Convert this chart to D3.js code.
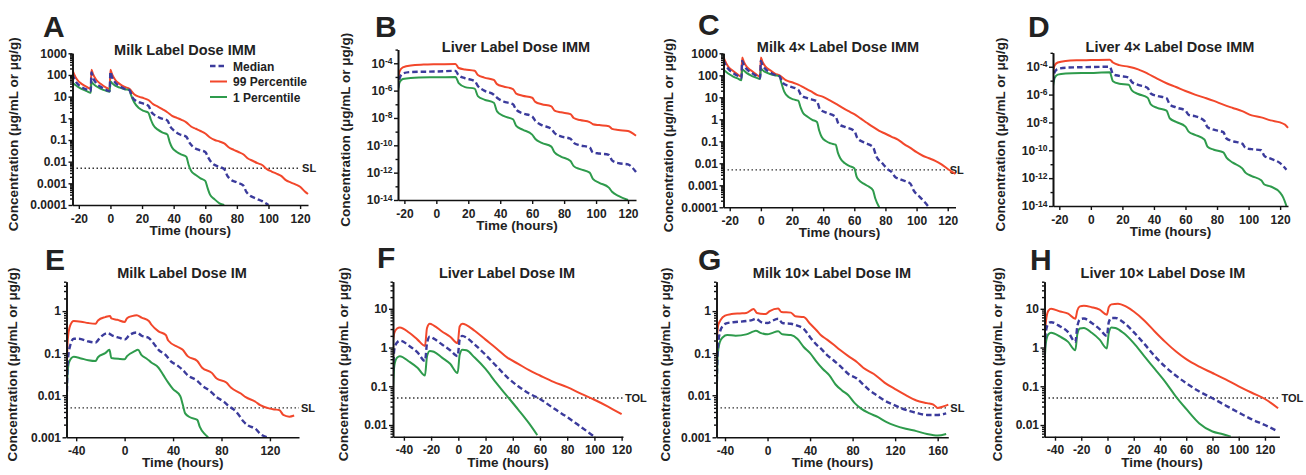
<!DOCTYPE html>
<html>
<head>
<meta charset="utf-8">
<script src="https://cdn.jsdelivr.net/npm/d3@7"></script>
<style>
body { margin: 0; background: #fff; }
svg text { font-family: "Liberation Sans", Arial, sans-serif; font-weight: bold; fill: #222; }
</style>
</head>
<body>
<svg id="chart" width="1306" height="475"></svg>
<script>
// every series is [time (hours), concentration]

// A - milk, label dose, IMM
var aMedian = [[-24,110],[-23,70],[-21,40],[-18,27],[-15,21],[-12.5,18],[-12,130],[-11,75],[-9,42],[-6,28],[-3,21],[-0.5,18],[0,140],[1,80],[3,45],[6,30],[9,23],[12,20],[14,9],[16,6.5],[20,5],[24,3.8],[26,1.9],[28,1.4],[32,1],[36,0.8],[38,0.4],[40,0.28],[44,0.18],[48,0.14],[50,0.075],[52,0.05],[56,0.035],[60,0.028],[62,0.015],[64,0.009],[68,0.006],[72,0.0045],[74,0.0022],[76,0.0015],[80,0.0011],[84,0.0008],[86,0.0004],[88,0.00028],[92,0.0002],[96,0.00015],[100,0.0001]];
var aP99 = [[-24,170],[-23,110],[-21,60],[-18,38],[-15,28],[-12.5,23],[-12,175],[-11,110],[-9,60],[-6,38],[-3,27],[-0.5,22],[0,175],[1,110],[3,60],[6,38],[9,28],[12,23],[15,13],[18,10],[21,8.5],[24,7],[27,4.5],[30,3.5],[33,2.6],[36,1.9],[39,1.3],[42,1.05],[45,0.85],[48,0.65],[51,0.42],[54,0.33],[57,0.26],[60,0.2],[63,0.13],[66,0.1],[69,0.085],[72,0.07],[75,0.045],[78,0.035],[81,0.028],[84,0.022],[87,0.014],[90,0.011],[93,0.0085],[96,0.007],[99,0.0045],[102,0.0035],[105,0.0028],[108,0.0022],[111,0.0014],[114,0.0011],[117,0.0009],[120,0.0007],[123,0.00042],[125,0.00032]];
var aP1 = [[-24,45],[-23,38],[-21,30],[-18,22],[-15,18],[-12.5,15],[-12,48],[-11,40],[-9,30],[-6,23],[-3,19],[-0.5,17],[0,50],[1,42],[3,32],[6,26],[9,22],[12,20],[13,12],[15,5.5],[18,3],[21,2.2],[24,1.8],[25.5,0.9],[27,0.5],[30,0.3],[33,0.22],[36,0.18],[37.5,0.08],[39,0.045],[42,0.028],[45,0.021],[48,0.017],[49.5,0.007],[51,0.0038],[54,0.0024],[57,0.0017],[60,0.0013],[61.5,0.0006],[63,0.0003],[66,0.00018],[69,0.00012],[72,0.0001]];

// B - liver, label dose, IMM
var bMedian = [[-24,1.5e-6],[-23,8e-6],[-21,1.8e-5],[-16,2.3e-5],[0,2.5e-5],[12,2.8e-5],[14,1.3e-5],[18,8e-6],[24,5e-6],[26,2.2e-6],[30,1e-6],[36,5e-7],[38,3e-7],[42,1.6e-7],[48,1e-7],[50,4e-8],[54,2.2e-8],[60,1.3e-8],[62,6e-9],[66,3e-9],[72,1.6e-9],[74,8e-10],[78,4.5e-10],[84,3e-10],[86,1.5e-10],[90,1e-10],[96,7e-11],[98,3e-11],[102,2.5e-11],[108,2e-11],[110,8e-12],[114,5e-12],[120,4e-12],[125,1.1e-12]];
var bP99 = [[-24,5e-6],[-23,2.5e-5],[-21,5e-5],[-16,7e-5],[-8,8e-5],[0,8.5e-5],[12,9e-5],[14,4.5e-5],[18,3.5e-5],[24,2.8e-5],[26,1.4e-5],[30,9e-6],[36,6e-6],[38,3e-6],[42,2e-6],[48,1.3e-6],[50,6e-7],[54,4.2e-7],[60,3e-7],[62,1.5e-7],[66,1e-7],[72,7e-8],[74,3.5e-8],[78,2.6e-8],[84,1.9e-8],[86,1e-8],[90,7e-9],[96,5e-9],[98,3.5e-9],[102,3e-9],[108,2.5e-9],[110,1.6e-9],[114,1.3e-9],[120,1.1e-9],[125,5e-10]];
var bP1 = [[-24,9e-7],[-23,4e-6],[-21,7e-6],[-16,8.5e-6],[0,9.5e-6],[12,1e-5],[14,3.5e-6],[18,1.8e-6],[24,1.4e-6],[26,4e-7],[30,2.2e-7],[36,1.3e-7],[38,3e-8],[42,1.4e-8],[48,8e-9],[50,2.6e-9],[54,1.4e-9],[60,6e-10],[62,2.9e-10],[66,1.5e-10],[72,8e-11],[74,3e-11],[78,1.5e-11],[84,7e-12],[86,3e-12],[90,1.8e-12],[96,1e-12],[98,3.5e-13],[102,1.8e-13],[108,8e-14],[110,4e-14],[114,2e-14],[120,1e-14]];

// C - milk, 4x label dose, IMM
var cMedian = [[-24,500],[-23,330],[-21,200],[-18,130],[-15,95],[-12.5,75],[-12,450],[-11,300],[-9,190],[-6,130],[-3,95],[-0.5,75],[0,450],[1,300],[3,190],[6,135],[9,105],[12,90],[14,45],[18,32],[24,22],[26,12],[30,9],[36,6.5],[38,2.8],[42,2],[48,1.3],[50,0.6],[54,0.45],[60,0.3],[62,0.14],[66,0.09],[72,0.055],[74,0.022],[78,0.01],[82,0.005],[84,0.004],[86,0.0025],[90,0.0018],[96,0.0012],[98,0.0006],[102,0.0003],[105,0.00018],[108,0.0001]];
var cP99 = [[-24,700],[-23,450],[-21,250],[-18,160],[-15,110],[-12.5,85],[-12,650],[-11,420],[-9,240],[-6,160],[-3,110],[-0.5,85],[0,650],[1,420],[3,250],[6,170],[9,120],[12,100],[16,60],[20,48],[24,38],[28,27],[32,19],[36,13],[40,10.5],[44,7.5],[48,5.2],[52,3.5],[56,2.4],[60,1.7],[64,1.1],[68,0.7],[72,0.45],[76,0.3],[80,0.22],[84,0.16],[88,0.12],[92,0.075],[96,0.05],[100,0.032],[104,0.022],[108,0.017],[112,0.013],[116,0.009],[120,0.0055],[123,0.004],[125,0.0033]];
var cP1 = [[-24,180],[-23,155],[-21,120],[-18,90],[-15,72],[-12.5,60],[-12,190],[-11,165],[-9,125],[-6,95],[-3,78],[-0.5,68],[0,200],[1,175],[3,140],[6,115],[9,100],[12,90],[13,50],[15,18],[18,10],[21,8],[24,7],[25.5,3.5],[27,2],[30,1.3],[33,0.95],[36,0.75],[37.5,0.3],[39,0.16],[42,0.1],[45,0.08],[48,0.07],[49.5,0.03],[51,0.017],[54,0.01],[57,0.0075],[60,0.006],[61.5,0.0025],[63,0.0017],[66,0.0012],[69,0.0009],[72,0.0006],[73.5,0.00025],[76,0.0001]];

// D - liver, 4x label dose, IMM
var dMedian = [[-24,8e-6],[-23,4e-5],[-21,7e-5],[-16,8.5e-5],[0,9.5e-5],[12,1e-4],[14,3e-5],[18,2.2e-5],[24,1.7e-5],[26,8e-6],[30,5e-6],[36,3e-6],[38,1.2e-6],[42,8e-7],[48,5.5e-7],[50,2e-7],[54,1.2e-7],[60,7e-8],[62,3.5e-8],[66,2.8e-8],[72,1.3e-8],[74,4.5e-9],[78,3e-9],[84,2e-9],[86,7e-10],[90,4.5e-10],[96,3e-10],[98,1.5e-10],[102,1.2e-10],[108,1e-10],[110,4e-11],[114,2.5e-11],[120,1.2e-11],[124,4e-12]];
var dP99 = [[-24,4e-5],[-23,1.2e-4],[-21,2e-4],[-16,2.6e-4],[-8,2.9e-4],[0,3e-4],[12,3.2e-4],[14,2e-4],[18,1.3e-4],[24,1e-4],[30,6.5e-5],[36,3.2e-5],[42,1.4e-5],[48,6.5e-6],[54,3.5e-6],[60,1.8e-6],[66,1e-6],[72,6e-7],[78,3.5e-7],[84,1.9e-7],[90,1.1e-7],[96,6.5e-8],[102,3.2e-8],[108,2.3e-8],[114,1.4e-8],[120,1e-8],[123,7e-9],[125,4e-9]];
var dP1 = [[-24,4e-6],[-23,1.5e-5],[-21,2.7e-5],[-16,3.2e-5],[0,3.6e-5],[12,4e-5],[14,9e-6],[18,6e-6],[24,5e-6],[26,2e-6],[30,1.1e-6],[36,6e-7],[38,2e-7],[42,1.1e-7],[48,7e-8],[50,2e-8],[54,1.1e-8],[60,5e-9],[62,2.2e-9],[66,1.3e-9],[72,6e-10],[74,1.8e-10],[78,1.1e-10],[84,7e-11],[86,3e-11],[90,1.3e-11],[96,5e-12],[98,2.5e-12],[102,1.4e-12],[108,7e-13],[110,3.5e-13],[114,2.5e-13],[120,9e-14],[122,4e-14],[124,1e-14]];

// E - milk, label dose, IM
var eMedian = [[-48,0.003],[-47.5,0.02],[-47,0.06],[-45,0.15],[-42,0.22],[-38,0.22],[-30,0.19],[-24,0.18],[-20,0.24],[-14,0.3],[-10,0.26],[-4,0.23],[0,0.21],[4,0.27],[10,0.31],[14,0.26],[20,0.23],[24,0.17],[28,0.12],[34,0.09],[38,0.065],[44,0.05],[48,0.04],[52,0.03],[60,0.022],[64,0.017],[70,0.013],[76,0.009],[82,0.007],[86,0.0055],[90,0.0046],[94,0.0035],[98,0.0024],[102,0.0019],[108,0.0016],[112,0.0012],[118,0.001]];
var eP99 = [[-48,0.005],[-47.5,0.08],[-47,0.2],[-45,0.45],[-42,0.58],[-36,0.56],[-30,0.52],[-24,0.5],[-22,0.6],[-16,0.72],[-12,0.77],[-11,0.67],[-6,0.62],[0,0.55],[2,0.68],[6,0.76],[10,0.8],[14,0.7],[20,0.58],[22,0.48],[28,0.33],[34,0.27],[36,0.2],[44,0.14],[48,0.12],[52,0.085],[60,0.065],[64,0.045],[72,0.034],[76,0.025],[84,0.02],[88,0.015],[96,0.011],[100,0.009],[108,0.007],[112,0.0058],[120,0.0048],[124,0.0046],[128,0.0044],[131,0.0034],[136,0.0031],[140,0.0033]];
var eP1 = [[-48,0.001],[-47.5,0.02],[-46,0.06],[-42,0.082],[-36,0.075],[-30,0.068],[-24,0.065],[-22,0.08],[-16,0.1],[-12.5,0.12],[-11,0.077],[-4,0.073],[0,0.072],[2,0.085],[8,0.11],[11,0.12],[14,0.09],[18,0.075],[22,0.06],[28,0.045],[32,0.03],[36,0.02],[40,0.014],[46,0.0095],[48,0.006],[50,0.0037],[54,0.003],[60,0.0026],[62,0.0018],[66,0.0012],[69,0.001]];

// F - liver, label dose, IM
var fMedian = [[-48,0.25],[-47,0.9],[-45,1.35],[-43,1.5],[-36,1.1],[-30,0.75],[-24.5,0.45],[-23,1.3],[-21,1.9],[-18,1.7],[-12,1.2],[-6,0.85],[-0.5,0.6],[1,1.6],[3,2],[6,1.8],[12,1.2],[20,0.65],[28,0.33],[36,0.17],[44,0.1],[52,0.065],[60,0.047],[70,0.027],[80,0.016],[90,0.009],[100,0.005]];
var fP99 = [[-48,1.5],[-47,2.4],[-45,3.1],[-43,3.3],[-36,2.4],[-30,1.6],[-24.5,1.1],[-23,3.2],[-21,4.1],[-18,3.7],[-12,2.6],[-6,1.9],[-0.5,1.3],[1,3.5],[3,4.1],[6,3.8],[12,2.7],[20,1.6],[28,0.95],[36,0.55],[44,0.38],[52,0.26],[60,0.19],[70,0.13],[80,0.095],[90,0.065],[100,0.045],[110,0.03],[120,0.019]];
var fP1 = [[-48,0.09],[-47,0.35],[-45,0.55],[-43,0.6],[-36,0.43],[-30,0.3],[-24.5,0.19],[-23,0.6],[-21,0.82],[-18,0.78],[-12,0.55],[-6,0.38],[-0.5,0.22],[1,0.65],[3,0.88],[6,0.85],[12,0.55],[20,0.28],[28,0.12],[36,0.055],[44,0.025],[52,0.011],[58,0.0055]];

// G - milk, 10x label dose, IM
var gMedian = [[-48,0.008],[-47,0.1],[-45,0.3],[-42,0.45],[-38,0.52],[-30,0.55],[-20,0.58],[-14,0.62],[-11,0.66],[-6,0.55],[0,0.52],[4,0.58],[10,0.66],[14,0.52],[22,0.5],[28,0.45],[34,0.38],[40,0.24],[46,0.16],[50,0.13],[56,0.09],[62,0.068],[70,0.045],[76,0.032],[84,0.025],[90,0.018],[96,0.013],[104,0.0095],[110,0.0075],[118,0.006],[126,0.0049],[134,0.0042],[140,0.0038],[150,0.0034],[160,0.0034],[168,0.0037]];
var gP99 = [[-48,0.15],[-46.5,0.45],[-44,0.62],[-40,0.78],[-34,0.85],[-26,0.88],[-20,0.9],[-13,1.12],[-10,0.9],[-2,0.85],[2,1],[10,1.15],[13,0.95],[22,0.92],[26,0.75],[34,0.72],[40,0.5],[46,0.35],[50,0.27],[56,0.21],[62,0.16],[68,0.12],[76,0.085],[84,0.062],[90,0.045],[100,0.032],[110,0.02],[120,0.014],[130,0.01],[140,0.0075],[150,0.0065],[156,0.006],[160,0.005],[166,0.0055],[170,0.006]];
var gP1 = [[-48,0.002],[-47,0.08],[-45,0.18],[-42,0.24],[-38,0.27],[-30,0.26],[-20,0.28],[-13,0.33],[-11,0.34],[-6,0.3],[0,0.28],[4,0.3],[10,0.33],[14,0.28],[22,0.27],[28,0.22],[34,0.14],[40,0.1],[46,0.063],[52,0.042],[58,0.03],[64,0.018],[70,0.013],[76,0.01],[82,0.0065],[88,0.0048],[96,0.0037],[104,0.003],[112,0.0023],[120,0.0019],[130,0.0016],[140,0.0014],[150,0.0012],[160,0.0011],[168,0.0012]];

// H - liver, 10x label dose, IM
var hMedian = [[-48,0.6],[-47,2.5],[-45,4.2],[-43,4.5],[-36,3.5],[-30,2.5],[-24.5,1.4],[-23,3.5],[-21,5.3],[-18,5.6],[-12,4.3],[-6,3],[-0.5,2],[1,4.5],[3,5.8],[6,5.8],[12,4.5],[20,2.5],[28,1.25],[36,0.6],[44,0.32],[52,0.19],[60,0.12],[70,0.073],[80,0.049],[90,0.032],[100,0.021],[110,0.014],[120,0.01],[130,0.0068]];
var hP99 = [[-48,2],[-46.5,6],[-45,9],[-43,10],[-36,8.5],[-30,7.5],[-24.5,5.5],[-23,9],[-21,11.5],[-18,12],[-12,11],[-6,9.5],[-0.5,7],[1,11],[3,13],[8,13.5],[14,11.5],[20,8.5],[28,5],[36,2.6],[44,1.4],[52,0.8],[60,0.5],[70,0.32],[80,0.22],[90,0.15],[100,0.1],[110,0.068],[120,0.047],[130,0.027]];
var hP1 = [[-48,0.35],[-47,1.3],[-45,2.2],[-43,2.4],[-36,1.9],[-30,1.4],[-24.5,0.85],[-23,2.2],[-21,3.1],[-18,3.2],[-12,2.4],[-6,1.6],[-0.5,0.95],[1,2.4],[3,3.3],[6,3.2],[12,2.4],[20,1.3],[28,0.6],[36,0.28],[44,0.13],[52,0.055],[60,0.026],[70,0.011],[80,0.0068],[88,0.0058],[94,0.005]];

// tick values
var immTimeTicks = [-20, 0, 20, 40, 60, 80, 100, 120];
var imTimeTicks40 = [-40, 0, 40, 80, 120];
var imTimeTicks20 = [-40, -20, 0, 20, 40, 60, 80, 100, 120];
var gTimeTicks = [-40, 0, 40, 80, 120, 160];
var milkImmTicks = [1e-4, 1e-3, 0.01, 0.1, 1, 10, 100, 1000];
var liverImmTicks = [1e-14, 1e-12, 1e-10, 1e-8, 1e-6, 1e-4];
var milkImTicks = [0.001, 0.01, 0.1, 1];
var liverImTicks = [0.01, 0.1, 1, 10];

var legendNames = ['Median', '99 Percentile', '1 Percentile'];
var yTitle = 'Concentration (\u03bcg/mL or \u03bcg/g)';
var xTitle = 'Time (hours)';

var blue = '#3b3b9c', red = '#f2472b', green = '#2e9b4c';

var panels = [
  {key:'A', title:'Milk Label Dose IMM', titleX:185, titleY:55, letterX:43, letterY:37, ylabX:18,
   left:72.5, right:308, top:53.3, bottom:205, xDom:[-24,125], yDom:[1e-4,1000], xTicks:immTimeTicks, yTicks:milkImmTicks, power:false,
   med:aMedian, hi:aP99, lo:aP1, limit:0.005, limitLabel:'SL', limitEnd:120, legend:true},
  {key:'B', title:'Liver Label Dose IMM', titleX:516, titleY:52, letterX:375, letterY:37, ylabX:350,
   left:398, right:636, top:49.6, bottom:200, xDom:[-24,125], yDom:[1e-14,1e-3], xTicks:immTimeTicks, yTicks:liverImmTicks, power:true,
   med:bMedian, hi:bP99, lo:bP1},
  {key:'C', title:'Milk 4\u00d7 Label Dose IMM', titleX:838, titleY:52, letterX:698, letterY:35, ylabX:673,
   left:723.5, right:955.5, top:53.3, bottom:207.3, xDom:[-24,125], yDom:[1e-4,1000], xTicks:immTimeTicks, yTicks:milkImmTicks, power:false,
   med:cMedian, hi:cP99, lo:cP1, limit:0.005, limitLabel:'SL', limitEnd:120},
  {key:'D', title:'Liver 4\u00d7 Label Dose IMM', titleX:1170, titleY:52, letterX:1028, letterY:37, ylabX:1005,
   left:1053, right:1288, top:52.8, bottom:206, xDom:[-24,125], yDom:[1e-14,1e-3], xTicks:immTimeTicks, yTicks:liverImmTicks, power:true,
   med:dMedian, hi:dP99, lo:dP1},
  {key:'E', title:'Milk Label Dose IM', titleX:182, titleY:278, letterX:45, letterY:270, ylabX:17,
   left:66.5, right:299, top:281.7, bottom:437.3, xDom:[-48,144], yDom:[0.001,5], xTicks:imTimeTicks40, yTicks:milkImTicks, power:false,
   med:eMedian, hi:eP99, lo:eP1, limit:0.005, limitLabel:'SL', limitEnd:144},
  {key:'F', title:'Liver Label Dose IM', titleX:507, titleY:278, letterX:377, letterY:268, ylabX:348,
   left:393, right:623, top:281.7, bottom:436.7, xDom:[-48,121], yDom:[0.005,50], xTicks:imTimeTicks20, yTicks:liverImTicks, power:false,
   med:fMedian, hi:fP99, lo:fP1, limit:0.05, limitLabel:'TOL', limitEnd:121},
  {key:'G', title:'Milk 10\u00d7 Label Dose IM', titleX:832, titleY:278, letterX:698, letterY:270, ylabX:670,
   left:716.5, right:948.3, top:281.7, bottom:437.3, xDom:[-48,170], yDom:[0.001,5], xTicks:gTimeTicks, yTicks:milkImTicks, power:false,
   med:gMedian, hi:gP99, lo:gP1, limit:0.005, limitLabel:'SL', limitEnd:170},
  {key:'H', title:'Liver 10\u00d7 Label Dose IM', titleX:1163, titleY:278, letterX:1030, letterY:270, ylabX:1002,
   left:1044.5, right:1279.4, top:281.7, bottom:436.7, xDom:[-48,131], yDom:[0.005,50], xTicks:imTimeTicks20, yTicks:liverImTicks, power:false,
   med:hMedian, hi:hP99, lo:hP1, limit:0.05, limitLabel:'TOL', limitEnd:131}
];

var svg = d3.select('#chart');

function plainLabel(v) { return String(+v.toPrecision(1)); }

function styleAxis(sel) {
  sel.attr('font-size', 12).attr('font-family', null);
  sel.select('.domain').attr('stroke', '#111').attr('stroke-width', 1.6);
  sel.selectAll('.tick line').attr('stroke', '#111').attr('stroke-width', 1.4);
}

panels.forEach(function (p) {
  var x = d3.scaleLinear().domain(p.xDom).range([p.left, p.right]);
  var y = d3.scaleLog().domain(p.yDom).range([p.bottom, p.top]);
  var g = svg.append('g').attr('class', 'panel-' + p.key);

  g.append('clipPath').attr('id', 'clip' + p.key).append('rect')
    .attr('x', p.left).attr('y', p.top - 6)
    .attr('width', p.right - p.left + 4).attr('height', p.bottom - p.top + 6);

  // limit line (SL / TOL)
  if (p.limit) {
    g.append('line')
      .attr('x1', x(p.xDom[0])).attr('x2', x(p.limitEnd))
      .attr('y1', y(p.limit)).attr('y2', y(p.limit))
      .attr('stroke', '#333').attr('stroke-width', 1.4).attr('stroke-dasharray', '1.5,2.5');
    g.append('text')
      .attr('x', x(p.limitEnd) + 2).attr('y', y(p.limit) + 4)
      .attr('font-size', 11).text(p.limitLabel);
  }

  var line = d3.line().x(function (d) { return x(d[0]); }).y(function (d) { return y(d[1]); })
    .curve(d3.curveMonotoneX);
  var curves = g.append('g').attr('clip-path', 'url(#clip' + p.key + ')');
  curves.append('path').attr('d', line(p.hi)).attr('fill', 'none').attr('stroke', red).attr('stroke-width', 2);
  curves.append('path').attr('d', line(p.lo)).attr('fill', 'none').attr('stroke', green).attr('stroke-width', 2);
  curves.append('path').attr('d', line(p.med)).attr('fill', 'none').attr('stroke', blue).attr('stroke-width', 2.4)
    .attr('stroke-dasharray', '5.5,3');

  // y axis: minor then major ticks
  var yMinor = y.ticks().filter(function (v) {
    return !p.yTicks.some(function (t) { return Math.abs(t - v) / t < 1e-6; });
  });
  g.append('g').attr('transform', 'translate(' + p.left + ',0)')
    .call(d3.axisLeft(y).tickValues(yMinor).tickSize(2.5).tickFormat('').tickSizeOuter(0))
    .call(styleAxis);
  var yAxis = g.append('g').attr('transform', 'translate(' + p.left + ',0)')
    .call(d3.axisLeft(y).tickValues(p.yTicks).tickSize(4).tickPadding(1.5).tickSizeOuter(0)
      .tickFormat(p.power ? function () { return '10'; } : plainLabel))
    .call(styleAxis);
  if (p.power) {
    yAxis.selectAll('.tick text').each(function (d) {
      var e = Math.round(Math.log10(d));
      d3.select(this).append('tspan').attr('dy', '-0.45em').attr('font-size', '8.5px').text('-' + Math.abs(e));
    });
  }

  // x axis
  g.append('g').attr('transform', 'translate(0,' + p.bottom + ')')
    .call(d3.axisBottom(x).tickValues(p.xTicks).tickSize(4).tickPadding(5).tickSizeOuter(0)
      .tickFormat(function (d) { return d < 0 ? '-' + Math.abs(d) : String(d); }))
    .call(styleAxis);

  // titles
  g.append('text').attr('x', p.letterX).attr('y', p.letterY).attr('font-size', 30).text(p.key);
  g.append('text').attr('x', p.titleX).attr('y', p.titleY).attr('text-anchor', 'middle')
    .attr('font-size', 14.5).text(p.title);
  g.append('text').attr('x', (p.left + p.right) / 2).attr('y', p.bottom + 30).attr('text-anchor', 'middle')
    .attr('font-size', 13.5).text(xTitle);
  g.append('text')
    .attr('transform', 'translate(' + p.ylabX + ',' + ((p.top + p.bottom) / 2 + 5) + ') rotate(-90)')
    .attr('text-anchor', 'middle').attr('font-size', 13.5).text(yTitle);

  if (p.legend) {
    var styles = [[blue, '5.5,3', 2.4], [red, null, 2], [green, null, 2]];
    var lg = g.append('g').attr('transform', 'translate(210,66)');
    legendNames.forEach(function (name, i) {
      lg.append('line').attr('x1', 0).attr('x2', 17).attr('y1', i * 15.5).attr('y2', i * 15.5)
        .attr('stroke', styles[i][0]).attr('stroke-width', styles[i][2]).attr('stroke-dasharray', styles[i][1]);
      lg.append('text').attr('x', 23).attr('y', i * 15.5 + 4.5).attr('font-size', 12).text(name);
    });
  }
});
</script>
</body>
</html>
